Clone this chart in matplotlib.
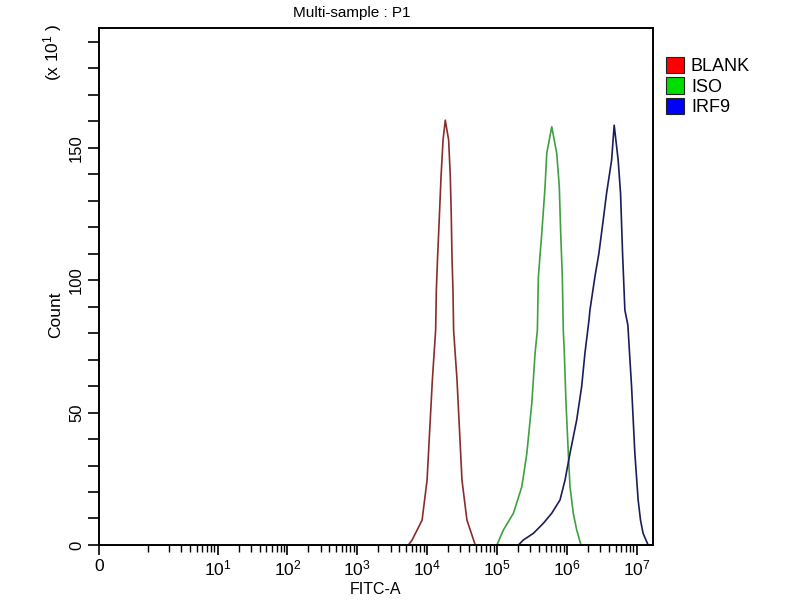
import matplotlib
matplotlib.use('Agg')
import matplotlib.pyplot as plt
import numpy as np
from matplotlib.patches import Patch

plt.rcParams['font.family'] = ['Liberation Sans', 'DejaVu Sans']
plt.rcParams['mathtext.default'] = 'regular'

# histogram outlines: decade position (log10 FITC-A) and count (x10)
blank_dec = [3.733, 3.786, 3.929, 4.0, 4.076, 4.123, 4.133, 4.151, 4.176, 4.2, 4.229, 4.261,
             4.309, 4.333, 4.347, 4.357, 4.371, 4.38, 4.429, 4.5, 4.571, 4.69]
blank_cnt = [0, 1.9, 9.4, 24.5, 62.3, 81.2, 96.3, 108.8, 123.9, 139, 152.9, 160.4,
             152.9, 139, 123.9, 108.8, 96.3, 81.2, 62.3, 24.5, 9.4, 0]

iso_dec = [5.0, 5.094, 5.237, 5.357, 5.429, 5.5, 5.547, 5.58, 5.594, 5.643, 5.69, 5.714, 5.786,
           5.857, 5.894, 5.914, 5.937, 5.951, 5.966, 5.99, 6.023, 6.047, 6.094, 6.143, 6.204]
iso_cnt = [0, 5.7, 12.0, 22.0, 34.6, 53.5, 72.4, 81.2, 101.3, 117.7, 135.3, 147.9, 157.9,
           147.9, 135.3, 117.7, 101.3, 81.2, 72.4, 53.5, 34.6, 22.0, 12.0, 5.7, 0]

irf9_dec = [5.309, 5.38, 5.523, 5.666, 5.786, 5.904, 5.976, 6.047, 6.143, 6.214, 6.261, 6.319,
            6.333, 6.404, 6.461, 6.523, 6.571, 6.643, 6.68,
            6.737, 6.771, 6.8, 6.833, 6.876, 6.9, 6.929, 6.976, 7.023, 7.057, 7.094, 7.166]
irf9_cnt = [0, 1.9, 4.4, 8.2, 12.0, 17.0, 24.5, 34.6, 47.2, 59.8, 72.4, 84.9,
            88.7, 101.3, 110.1, 122.7, 132.8, 145.3, 158.5,
            145.3, 132.8, 110.1, 88.7, 83.0, 72.4, 59.8, 34.6, 17.0, 9.4, 4.4, 0]

names = ['BLANK', 'ISO', 'IRF9']
line_colors = ['#8a2c2c', '#3fa040', '#1c1c5a']
legend_colors = ['#ff0000', '#00dd00', '#0000ff']

fig = plt.figure(figsize=(8, 6), dpi=100)
ax = fig.add_axes([0.124, 0.0917, 0.692, 0.8621])

series = [(blank_dec, blank_cnt), (iso_dec, iso_cnt), (irf9_dec, irf9_cnt)]
for (d, c), col in zip(series, line_colors):
    ax.plot(10 ** np.array(d), c, color=col, lw=1.2)

ax.set_xscale('symlog', linthresh=1, linscale=0.626)
ax.set_xlim(0, 1.71e7)
ax.set_ylim(0, 195.3)

major = [0] + [10 ** n for n in range(1, 8)]
ax.set_xticks(major)
ax.set_xticklabels(['0'] + ['$10^{%d}$' % n for n in range(1, 8)], fontsize=12.5)
minor = [k * 10 ** n for n in range(0, 7) for k in range(1, 10) if not (k == 1 and n > 0)]
ax.set_xticks(minor, minor=True)

ax.set_yticks([0, 50, 100, 150])
ax.set_yticklabels(['0', '50', '100', '150'], fontsize=12, rotation=90, va='center')
ax.set_yticks(np.arange(0, 195, 10), minor=True)

ax.tick_params(axis='x', which='major', direction='out', length=7, width=1.2, pad=3)
ax.tick_params(axis='x', which='minor', direction='out', length=5, width=1)
ax.tick_params(axis='y', which='both', direction='out', length=8, width=1.2, pad=3)
for s in ax.spines.values():
    s.set_linewidth(1.4)

ax.set_xlabel('FITC-A', fontsize=11.5, labelpad=2)
fig.text(0.069, 0.475, 'Count', rotation=90, fontsize=12.5, ha='center', va='center')
fig.text(0.066, 0.913, '(x 10$^{1}$ )', rotation=90, fontsize=12.5, ha='center', va='center')
fig.text(0.44, 0.978, 'Multi-sample : P1', fontsize=11, ha='center', va='center')

handles = [Patch(facecolor=c, edgecolor='#222222', lw=0.8) for c in legend_colors]
fig.legend(handles, names, loc='upper left', bbox_to_anchor=(0.832, 0.905), frameon=False,
           fontsize=13, handlelength=1.0, handleheight=1.0, handletextpad=0.4,
           labelspacing=0.12, borderaxespad=0, borderpad=0)

fig.savefig('out.png', dpi=100)
